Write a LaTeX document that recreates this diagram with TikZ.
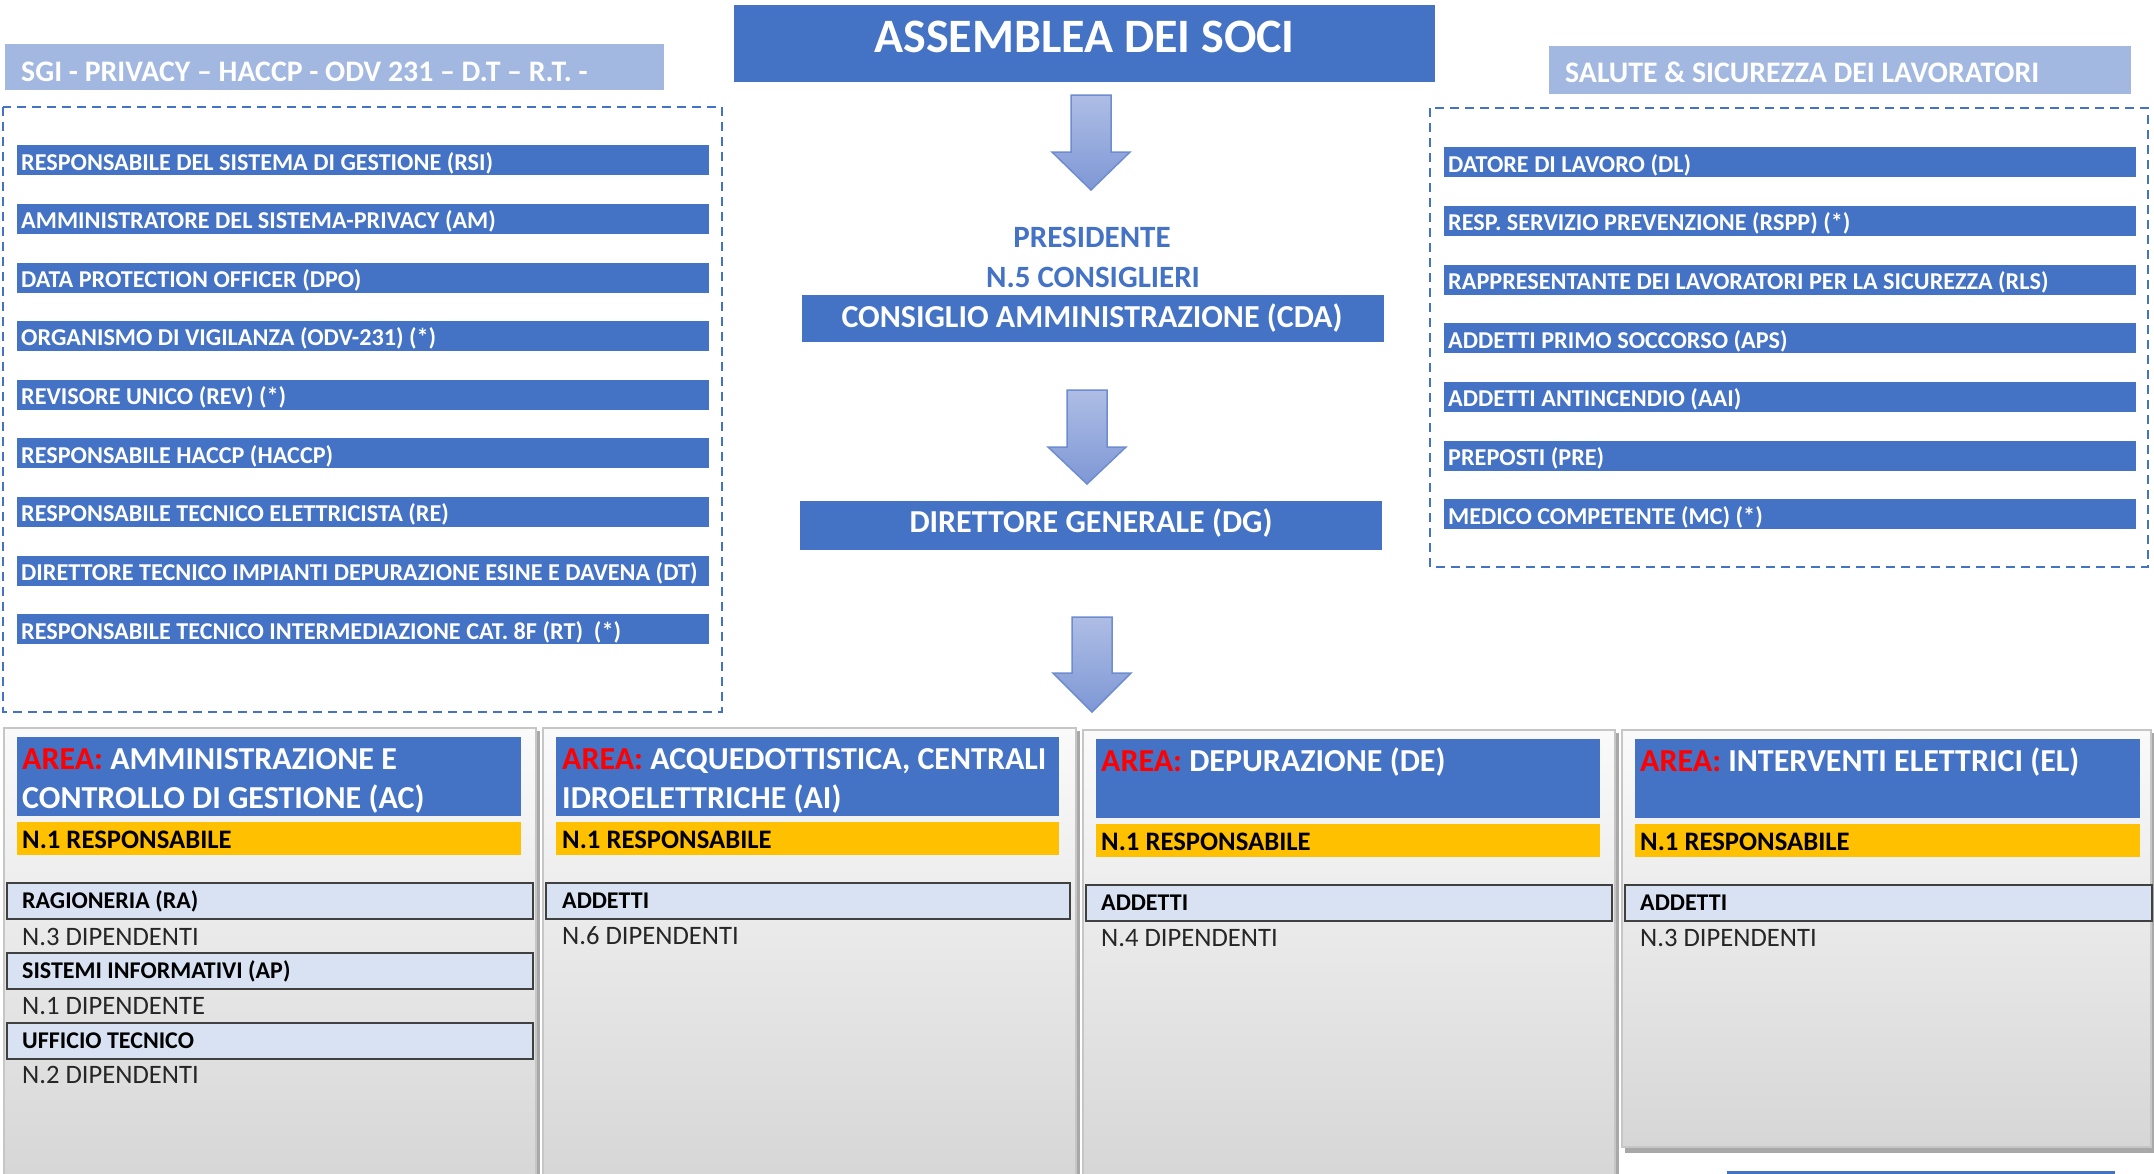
\documentclass[tikz,border=0pt]{standalone}
\usepackage{fontspec}
\setmainfont{Carlito}
\definecolor{ublue}{HTML}{4472C4}
\definecolor{hblue}{HTML}{A3B8E1}
\definecolor{lblue}{HTML}{D9E2F3}
\definecolor{uyel}{HTML}{FFC000}
\definecolor{ured}{HTML}{FF0000}
\definecolor{dtext}{HTML}{262626}
\definecolor{arrtop}{HTML}{AEBDE5}
\definecolor{arrbot}{HTML}{7E98D5}
\definecolor{arrdraw}{HTML}{6E8DD0}
\definecolor{pborder}{HTML}{C6C6C6}
\definecolor{ptop}{HTML}{FAFAFA}
\definecolor{pbot}{HTML}{D6D6D6}
\definecolor{pshadow}{HTML}{A8A8A8}
\begin{document}
\begin{tikzpicture}[x=1pt,y=-1pt,
  box/.style={rectangle, inner sep=0pt, anchor=north west, draw=none},
  bluebox/.style={box, fill=ublue},
  lbar/.style={bluebox, minimum width=692pt, minimum height=30pt},
  hdbox/.style={box, fill=hblue},
  wt/.style={anchor=base west, inner sep=0pt, text=white, font=\bfseries\fontsize{24.2}{28}\selectfont},
  hdt/.style={wt, font=\bfseries\fontsize{29.8}{34}\selectfont},
  areat/.style={wt, font=\bfseries\fontsize{32}{38}\selectfont},
  bkt/.style={anchor=base west, inner sep=0pt, text=black, font=\bfseries\fontsize{24}{28}\selectfont},
  ylt/.style={bkt, font=\bfseries\fontsize{26.7}{30}\selectfont},
  dept/.style={anchor=base west, inner sep=0pt, text=dtext, font=\fontsize{26.6}{30}\selectfont},
  ctt/.style={anchor=base, inner sep=0pt, font=\bfseries\fontsize{31}{36}\selectfont},
  dbox/.style={draw=ublue, line width=2.2pt, dash pattern=on 9pt off 6pt},
  blockarrow/.style={top color=arrtop, bottom color=arrbot, draw=arrdraw, line width=1.5pt},
  panel/.style={top color=ptop, bottom color=pbot, draw=pborder, line width=2pt},
  pshad/.style={fill=pshadow},
  ahead/.style={bluebox, minimum height=79pt},
  ybar/.style={box, fill=uyel, minimum height=33pt},
  lbbar/.style={box, fill=lblue, draw=black!75, line width=1.6pt, minimum height=36pt},
]
\useasboundingbox (0,0) rectangle (2154,1173);
\clip (0,0) rectangle (2154,1173);
\fill[white] (0,0) rectangle (2154,1173);

% ---------- top-left group ----------
\node[hdbox, minimum width=659pt, minimum height=46pt] (hl) at (5,44) {};
\node[hdt] (hlt) at (21,81) {SGI - PRIVACY – HACCP - ODV 231 – D.T – R.T. -};
\draw[dbox] (3,107) rectangle (722,712);
\foreach \i/\t in {0/{RESPONSABILE DEL SISTEMA DI GESTIONE (RSI)},
                   1/{AMMINISTRATORE DEL SISTEMA-PRIVACY (AM)},
                   2/{DATA PROTECTION OFFICER (DPO)},
                   3/{ORGANISMO DI VIGILANZA (ODV-231) (*)},
                   4/{REVISORE UNICO (REV) (*)},
                   5/{RESPONSABILE HACCP (HACCP)},
                   6/{RESPONSABILE TECNICO ELETTRICISTA (RE)},
                   7/{DIRETTORE TECNICO IMPIANTI DEPURAZIONE ESINE E DAVENA (DT)},
                   8/{RESPONSABILE TECNICO INTERMEDIAZIONE CAT. 8F (RT)~~(*)}} {
  \node[lbar] (L\i) at (17,{145+58.65*\i}) {};
  \node[wt] (L\i t) at (21,{170+58.65*\i}) {\t};
}

% ---------- top-right group ----------
\node[hdbox, minimum width=582pt, minimum height=48pt] (hr) at (1549,46) {};
\node[hdt] (hrt) at (1565,82) {SALUTE \& SICUREZZA DEI LAVORATORI};
\draw[dbox] (1430,108) rectangle (2148,567);
\foreach \i/\t in {0/{DATORE DI LAVORO (DL)},
                   1/{RESP. SERVIZIO PREVENZIONE (RSPP) (*)},
                   2/{RAPPRESENTANTE DEI LAVORATORI PER LA SICUREZZA (RLS)},
                   3/{ADDETTI PRIMO SOCCORSO (APS)},
                   4/{ADDETTI ANTINCENDIO (AAI)},
                   5/{PREPOSTI (PRE)},
                   6/{MEDICO COMPETENTE (MC) (*)}} {
  \node[lbar] (R\i) at (1444,{147+58.67*\i}) {};
  \node[wt] (R\i t) at (1448,{172+58.67*\i}) {\t};
}

% ---------- centre column ----------
\node[bluebox, minimum width=701pt, minimum height=77pt] (asm) at (734,5) {};
\node[ctt, text=white, font=\bfseries\fontsize{48}{52}\selectfont] (asmt) at (1084.5,52) {ASSEMBLEA DEI SOCI};

\shade[blockarrow] (1071,95) -- (1111,95) -- (1111,152) -- (1130,152) -- (1091,190) -- (1052,152) -- (1071,152) -- cycle;

\node[ctt, text=ublue] (pres) at (1092,247) {PRESIDENTE};
\node[ctt, text=ublue] (cons) at (1093,287) {N.5 CONSIGLIERI};
\node[bluebox, minimum width=582pt, minimum height=47pt] (cda) at (802,295) {};
\node[ctt, text=white, font=\bfseries\fontsize{32}{36}\selectfont] (cdat) at (1092,327) {CONSIGLIO AMMINISTRAZIONE (CDA)};

\shade[blockarrow] (1067,390) -- (1107,390) -- (1107,447) -- (1126,447) -- (1087,484) -- (1048,447) -- (1067,447) -- cycle;

\node[bluebox, minimum width=582pt, minimum height=49pt] (dg) at (800,501) {};
\node[ctt, text=white, font=\bfseries\fontsize{32}{36}\selectfont] (dgt) at (1091,532) {DIRETTORE GENERALE (DG)};

\shade[blockarrow] (1072,617) -- (1112,617) -- (1112,673) -- (1131,673) -- (1092,712) -- (1053,673) -- (1072,673) -- cycle;

% ---------- bottom panels ----------
\fill[pshad] (7,731) rectangle (540,1180);
\fill[pshad] (546,731) rectangle (1080,1180);
\fill[pshad] (1086,733) rectangle (1619,1180);
\fill[pshad] (1625,733) rectangle (2154,1153);
\shade[panel] (4,728) rectangle (536,1180);
\shade[panel] (543,728) rectangle (1076,1180);
\shade[panel] (1083,730) rectangle (1615,1180);
\shade[panel] (1622,730) rectangle (2151,1147);

% panel 1
\node[ahead, minimum width=504pt] (p1h) at (17,737) {};
\node[areat] (p1a) at (22,769) {\textcolor{ured}{AREA:} AMMINISTRAZIONE E};
\node[areat] (p1b) at (22,808) {CONTROLLO DI GESTIONE (AC)};
\node[ybar, minimum width=504pt] (p1y) at (17,822) {};
\node[ylt] (p1yt) at (22,848) {N.1 RESPONSABILE};
\node[lbbar, minimum width=526pt] (p1r1) at (6,882) {};
\node[bkt] (p1r1t) at (22,908) {RAGIONERIA (RA)};
\node[dept] (p1d1) at (22,945) {N.3 DIPENDENTI};
\node[lbbar, minimum width=526pt] (p1r2) at (6,952) {};
\node[bkt] (p1r2t) at (22,978) {SISTEMI INFORMATIVI (AP)};
\node[dept] (p1d2) at (22,1014) {N.1 DIPENDENTE};
\node[lbbar, minimum width=526pt] (p1r3) at (6,1022) {};
\node[bkt] (p1r3t) at (22,1048) {UFFICIO TECNICO};
\node[dept] (p1d3) at (22,1083) {N.2 DIPENDENTI};

% panel 2
\node[ahead, minimum width=503pt] (p2h) at (556,737) {};
\node[areat] (p2a) at (562,769) {\textcolor{ured}{AREA:} ACQUEDOTTISTICA, CENTRALI};
\node[areat] (p2b) at (562,808) {IDROELETTRICHE (AI)};
\node[ybar, minimum width=503pt] (p2y) at (556,822) {};
\node[ylt] (p2yt) at (562,848) {N.1 RESPONSABILE};
\node[lbbar, minimum width=524pt] (p2r1) at (545,882) {};
\node[bkt] (p2r1t) at (562,908) {ADDETTI};
\node[dept] (p2d1) at (562,944) {N.6 DIPENDENTI};

% panel 3
\node[ahead, minimum width=504pt] (p3h) at (1096,739) {};
\node[areat] (p3a) at (1101,771) {\textcolor{ured}{AREA:} DEPURAZIONE (DE)};
\node[ybar, minimum width=504pt] (p3y) at (1096,824) {};
\node[ylt] (p3yt) at (1101,850) {N.1 RESPONSABILE};
\node[lbbar, minimum width=526pt] (p3r1) at (1085,884) {};
\node[bkt] (p3r1t) at (1101,910) {ADDETTI};
\node[dept] (p3d1) at (1101,946) {N.4 DIPENDENTI};

% panel 4
\node[ahead, minimum width=505pt] (p4h) at (1635,739) {};
\node[areat] (p4a) at (1640,771) {\textcolor{ured}{AREA:} INTERVENTI ELETTRICI (EL)};
\node[ybar, minimum width=505pt] (p4y) at (1635,824) {};
\node[ylt] (p4yt) at (1640,850) {N.1 RESPONSABILE};
\node[lbbar, minimum width=527pt] (p4r1) at (1624,884) {};
\node[bkt] (p4r1t) at (1640,910) {ADDETTI};
\node[dept] (p4d1) at (1640,946) {N.3 DIPENDENTI};

% cut-off element at the bottom edge
\fill[ublue] (1727,1171) rectangle (2115,1180);
\end{tikzpicture}
\end{document}
